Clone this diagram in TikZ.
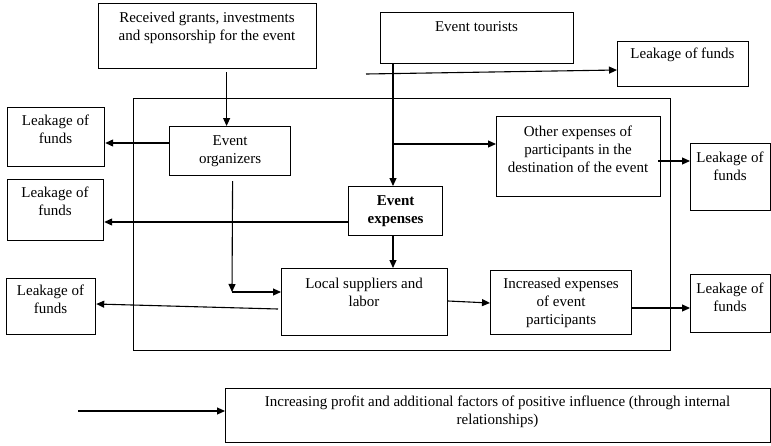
\documentclass[tikz,border=0pt]{standalone}
\usepackage{fontspec}
\setmainfont{Liberation Serif}
\usetikzlibrary{arrows.meta,calc}
\begin{document}
\begin{tikzpicture}[x=1pt,y=-1pt,
  box/.style={draw, line width=1.2pt, inner sep=0pt, anchor=north west},
  txt/.style={align=center, inner sep=0pt, font=\fontsize{15}{18}\selectfont},
  arr/.style={line width=1.1pt, -{Triangle[length=8pt,width=7pt]}},
  ln/.style={line width=1.1pt}]
\useasboundingbox (0,0) rectangle (771,445);
% boxes
\node[box, minimum width=218, minimum height=65] (grants) at (98,3) {};
\node[box, minimum width=193, minimum height=51] (tour) at (380,12) {};
\node[box, minimum width=131, minimum height=45] (lTR) at (617,41) {};
\node[box, minimum width=537, minimum height=252] (big) at (133,98) {};
\node[box, minimum width=121, minimum height=49] (org) at (169,126) {};
\node[box, minimum width=97, minimum height=59] (l1) at (7,107) {};
\node[box, minimum width=96, minimum height=61] (l2) at (7,179) {};
\node[box, minimum width=94, minimum height=49] (evx) at (348,186) {};
\node[box, minimum width=164, minimum height=80] (oth) at (496,116) {};
\node[box, minimum width=80, minimum height=67] (lMR) at (690,143) {};
\node[box, minimum width=166, minimum height=67] (loc) at (281,268) {};
\node[box, minimum width=89, minimum height=56] (l3) at (6,278) {};
\node[box, minimum width=141, minimum height=64] (inc) at (490,270) {};
\node[box, minimum width=80, minimum height=58] (l4) at (690,274) {};
\node[box, minimum width=545, minimum height=54] (bot) at (225,388) {};
% texts
\node[txt] (tg) at (207,27.5) {Received grants, investments\\and sponsorship for the event};
\node[txt] (tt) at (476.5,27) {Event tourists};
\node[txt] (ttr) at (682.5,55) {Leakage of funds};
\node[txt] (to) at (org.center) {Event\\organizers};
\node[txt] (t1) at (55.5,129) {Leakage of\\funds};
\node[txt] (t2) at (55,201) {Leakage of\\funds};
\node[txt, font=\fontsize{15}{18}\selectfont\bfseries] (te) at (evx.center) {Event\\expenses};
\node[txt] (tot) at (578,149) {Other expenses of\\participants in the\\destination of the event};
\node[txt] (tmr) at (730,166) {Leakage of\\funds};
\node[txt] (tl) at (364,292.5) {Local suppliers and\\labor};
\node[txt] (t3) at (50.5,299.5) {Leakage of\\funds};
\node[txt] (ti) at (inc.center) {Increased expenses\\of event\\participants};
\node[txt] (t4) at (730,297) {Leakage of\\funds};
\node[txt] (tb) at (497.5,412) {Increasing profit and additional factors of positive influence (through internal\\relationships)};
% free ends
\coordinate (fs) at (366,74);
\coordinate (fb) at (78,411);
\coordinate (bend) at (232,292);
\coordinate (brn) at (393,144);
% connectors
\draw[arr] ($(grants.south)+(19,3)$) -- (org.north -| {$(grants.south)+(19,3)$});
\draw[arr] (org.west |- 0,143) -- (l1.east |- 0,143);
\draw[arr] (tour.south -| 393,0) -- (evx.north -| 393,0);
\draw[arr] (brn) -- (oth.west |- brn);
\draw[arr] (fs) -- (lTR.west |- 0,70);
\draw[arr] ($(oth.east |- 0,161)+(-3,0)$) -- (lMR.west |- 0,161);
\draw[arr] (evx.west |- 0,222) -- (l2.east |- 0,222);
\draw[arr] (evx.south -| 393,0) -- (loc.north -| 393,0);
\draw[arr] ($(org.south)+(2.5,5)$) -- (bend);
\draw[arr] (bend) -- (loc.west |- bend);
\draw[arr] ($(loc.west |- 0,309)+(-3,0)$) -- (l3.east |- 0,304);
\draw[arr] (loc.east |- 0,301) -- (inc.west |- 0,303);
\draw[arr] (inc.east |- 0,308) -- (l4.west |- 0,308);
\draw[arr] (fb) -- (bot.west |- fb);
\end{tikzpicture}
\end{document}
